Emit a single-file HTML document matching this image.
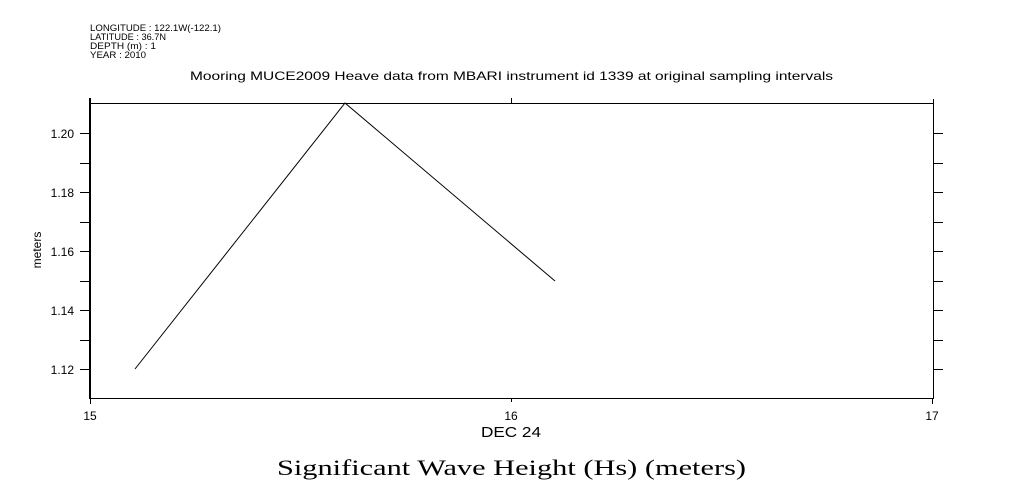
<!DOCTYPE html>
<html><head><style>body{margin:0;background:#fff}svg{display:block}</style></head><body>
<svg width="1009" height="504" xmlns="http://www.w3.org/2000/svg" font-family="Liberation Sans, sans-serif">
<rect width="1009" height="504" fill="#fff"/>
<g font-size="9" fill="#000" lengthAdjust="spacingAndGlyphs">
<text x="90" y="31" textLength="131" lengthAdjust="spacingAndGlyphs">LONGITUDE : 122.1W(-122.1)</text>
<text x="90" y="40" textLength="76" lengthAdjust="spacingAndGlyphs">LATITUDE : 36.7N</text>
<text x="90" y="49" textLength="66" lengthAdjust="spacingAndGlyphs">DEPTH (m) : 1</text>
<text x="90" y="58" textLength="56" lengthAdjust="spacingAndGlyphs">YEAR : 2010</text>
</g>
<text x="190" y="80" font-size="12" textLength="643" lengthAdjust="spacingAndGlyphs">Mooring MUCE2009 Heave data from MBARI instrument id 1339 at original sampling intervals</text>
<g stroke="#000" fill="none">
<line x1="90" y1="103.5" x2="933" y2="103.5" stroke-width="1"/>
<line x1="90" y1="398.5" x2="933" y2="398.5" stroke-width="1"/>
<line x1="90" y1="98" x2="90" y2="399" stroke-width="2"/>
<line x1="933.5" y1="99" x2="933.5" y2="399" stroke-width="1"/>
<line x1="511.5" y1="98" x2="511.5" y2="103"/>
<line x1="90.5" y1="398" x2="90.5" y2="404"/>
<line x1="511.5" y1="398" x2="511.5" y2="402"/>
<line x1="932.5" y1="398" x2="932.5" y2="404"/>
<g stroke-width="1">
<path d="M80 133.5h10M80 163.5h10M80 192.5h10M80 222.5h10M80 251.5h10M80 281.5h10M80 310.5h10M80 340.5h10M80 369.5h10"/>
<path d="M933 133.5h10M933 163.5h10M933 192.5h10M933 222.5h10M933 251.5h10M933 281.5h10M933 310.5h10M933 340.5h10M933 369.5h10"/>
</g>
<polyline points="135,369 345,103 555,281" stroke-width="1"/>
</g>
<g font-size="12" text-anchor="end">
<text x="74" y="138">1.20</text>
<text x="74" y="197">1.18</text>
<text x="74" y="256">1.16</text>
<text x="74" y="315">1.14</text>
<text x="74" y="374">1.12</text>
</g>
<text x="41" y="250" font-size="12" text-anchor="middle" transform="rotate(-90 41 250)">meters</text>
<g font-size="12" text-anchor="middle">
<text x="90" y="420">15</text>
<text x="511" y="420">16</text>
<text x="932" y="420">17</text>
</g>
<text x="481" y="437" font-size="15" textLength="60" lengthAdjust="spacingAndGlyphs">DEC 24</text>
<text x="277" y="475" font-size="22" font-family="Liberation Serif, serif" textLength="469" lengthAdjust="spacingAndGlyphs">Significant Wave Height (Hs) (meters)</text>
</svg>
</body></html>
